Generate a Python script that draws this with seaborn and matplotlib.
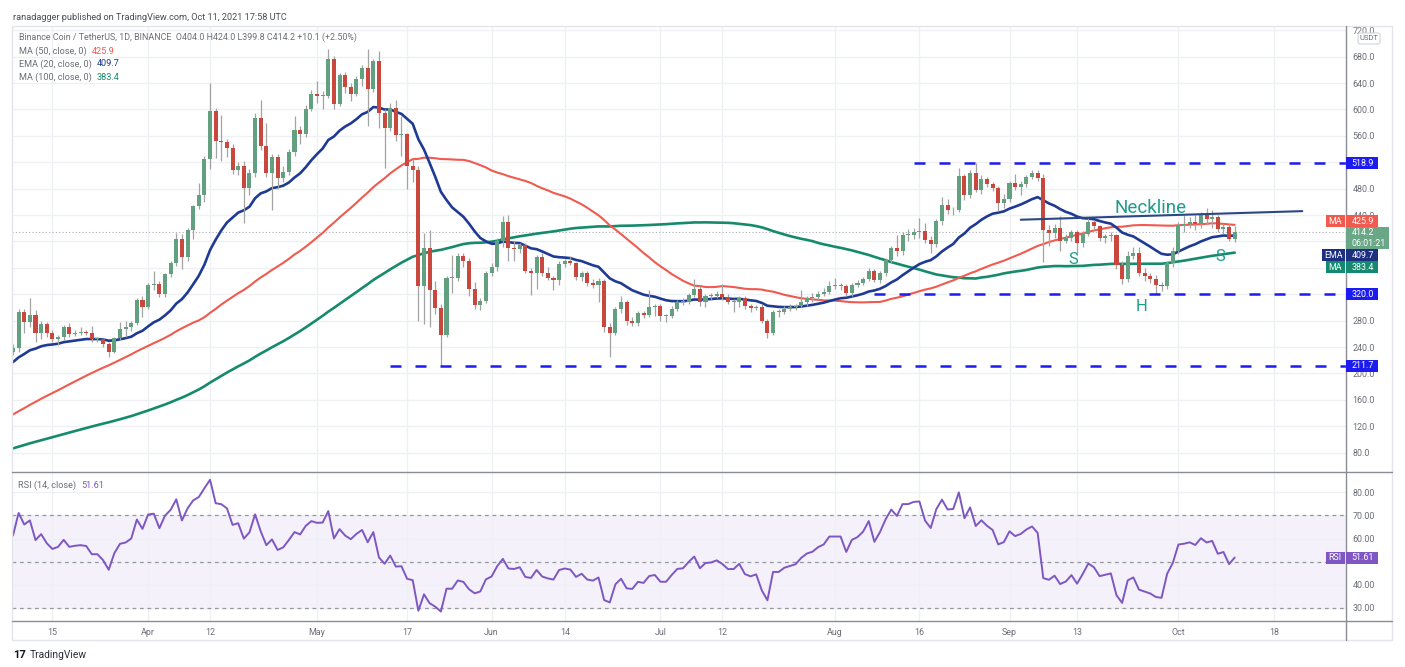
import numpy as np
import pandas as pd
import matplotlib
matplotlib.use("Agg")
import matplotlib.pyplot as plt
from matplotlib.patches import Rectangle, FancyBboxPatch
from matplotlib.lines import Line2D
from matplotlib.transforms import IdentityTransform
import seaborn as sns

# ---------------- data ----------------
# closes before the visible window (2020-11-28 .. 2021-03-07), only used to warm up MA / EMA / RSI
pre_close = [
    31.0, 31.5, 32.0, 30.5, 30.8, 31.0, 29.5, 30.2, 30.5, 30.3,
    29.0, 29.5, 29.3, 28.5, 29.5, 30.2, 30.0, 29.8, 31.0, 32.5,
    32.0, 32.8, 32.5, 31.5, 33.0, 31.5, 32.5, 33.5, 34.5, 36.0,
    37.0, 36.5, 37.5, 37.4,
    37.9, 38.2, 41.0, 40.5, 42.0, 41.5, 43.0, 42.0, 44.0, 43.5,
    40.0, 41.0, 43.0, 44.0, 42.0, 43.0,
    43, 44, 42, 41, 36, 39, 40, 42, 42, 41,
    40, 43, 45, 46, 45, 48, 51, 52, 53, 58,
    63, 64, 78,
    95, 130, 128, 130, 135, 138, 138, 150, 205, 240,
    300, 285, 265, 255, 220, 245, 230, 230, 232, 210,
    245, 232, 240, 228, 232, 230, 232,
]

start_date = "2021-03-08"   # first visible candle, last one is 2021-10-11

close = [
    239, 293, 278, 289, 261, 275, 261, 252, 256, 270,
    260, 262, 263, 262, 252, 252, 245, 233, 254, 268,
    270, 276, 311, 301, 334, 336, 320, 350, 367, 404,
    376, 418, 454, 471, 525, 597, 552, 550, 542, 508,
    515, 481, 504, 587, 544, 504, 528, 496, 506, 535,
    569, 563, 601, 624, 620, 621, 677, 609, 652, 634,
    624, 646, 663, 631, 673, 595, 572, 602, 562, 563,
    514, 508, 333, 390, 326, 299, 259, 345, 345, 378,
    370, 328, 304, 310, 352, 362, 400, 429, 390, 388,
    394, 356, 352, 376, 352, 345, 341, 366, 370, 367,
    346, 353, 337, 334, 340, 270, 261, 297, 309, 279,
    277, 291, 288, 301, 303, 287, 287, 298, 308, 309,
    319, 328, 309, 317, 318, 321, 316, 309, 309, 315,
    302, 299, 301, 279, 262, 293, 293, 298, 300, 302,
    309, 314, 316, 321, 324, 333, 333, 333, 322, 334,
    337, 343, 356, 341, 353, 372, 390, 385, 410, 410,
    415, 416, 402, 396, 431, 456, 447, 448, 499, 470,
    504, 478, 495, 487, 481, 459, 464, 489, 482, 487,
    497, 504, 496, 417, 413, 420, 401, 405, 415, 397,
    412, 430, 423, 406, 408, 410, 364, 343, 378, 383,
    353, 348, 343, 334, 332, 367, 386, 425, 427, 430,
    426, 440, 434, 437, 419, 422, 404, 414.2,
]

high = [
    245, 298, 298, 314, 296, 280, 278, 266, 259, 273,
    276, 266, 270, 266, 272, 256, 253, 248, 256, 278,
    280, 279, 314, 318, 337, 356, 340, 353, 370, 413,
    412, 420, 455, 488, 529, 640, 602, 592, 555, 548,
    520, 522, 510, 595, 615, 580, 533, 532, 515, 540,
    590, 575, 607, 630, 643, 628, 692, 681, 656, 657,
    640, 650, 668, 691, 676, 688, 600, 610, 615, 590,
    565, 525, 515, 413, 417, 340, 305, 348, 380, 382,
    382, 375, 338, 315, 356, 368, 405, 438, 440, 400,
    398, 398, 360, 380, 383, 361, 348, 370, 373, 378,
    369, 356, 356, 343, 344, 343, 277, 300, 318, 311,
    285, 294, 295, 327, 306, 305, 290, 302, 312, 314,
    322, 343, 332, 321, 322, 325, 336, 320, 313, 318,
    318, 305, 304, 305, 283, 296, 298, 302, 305, 306,
    327, 318, 322, 325, 330, 340, 345, 337, 336, 337,
    341, 346, 360, 359, 356, 375, 393, 410, 414, 419,
    421, 436, 428, 408, 434, 467, 465, 452, 511, 502,
    509, 519, 500, 498, 490, 484, 472, 492, 503, 492,
    500, 509, 508, 502, 425, 426, 438, 412, 418, 418,
    416, 436, 433, 425, 412, 414, 412, 370, 385, 392,
    392, 360, 352, 349, 338, 370, 392, 430, 440, 437,
    440, 444, 450, 448, 440, 426, 426, 424,
]

low = [
    228, 233, 261, 271, 248, 253, 256, 247, 243, 250,
    255, 257, 258, 258, 248, 248, 240, 225, 231, 250,
    256, 264, 273, 285, 298, 326, 316, 316, 346, 363,
    358, 370, 404, 449, 460, 510, 527, 522, 528, 502,
    500, 428, 470, 497, 538, 497, 448, 480, 490, 500,
    530, 548, 558, 598, 610, 601, 618, 600, 605, 625,
    613, 620, 636, 575, 626, 572, 512, 568, 552, 530,
    480, 490, 279, 275, 270, 290, 212, 255, 322, 340,
    362, 318, 297, 296, 307, 348, 355, 392, 370, 370,
    383, 352, 319, 328, 347, 342, 326, 334, 362, 364,
    342, 340, 333, 329, 309, 263, 225, 258, 292, 274,
    272, 272, 284, 285, 287, 280, 278, 284, 294, 304,
    305, 316, 303, 300, 312, 314, 312, 305, 293, 301,
    298, 293, 296, 276, 254, 258, 285, 290, 294, 296,
    300, 302, 309, 311, 318, 320, 328, 327, 318, 318,
    331, 334, 340, 338, 337, 348, 367, 378, 380, 400,
    404, 406, 398, 382, 392, 425, 441, 440, 445, 463,
    466, 475, 472, 482, 476, 446, 450, 460, 478, 470,
    483, 494, 491, 369, 393, 405, 385, 397, 400, 383,
    392, 408, 418, 400, 398, 400, 358, 335, 338, 374,
    347, 340, 337, 320, 325, 328, 361, 381, 414, 420,
    418, 420, 426, 420, 414, 412, 401, 399.8,
]

# horizontal levels drawn on the chart and the day each one starts
level_values = [518.9, 320.0, 211.7]
level_labels = ["518.9", "320.0", "211.7"]
level_starts = ["2021-08-15", "2021-08-08", "2021-05-14"]

# neckline of the head & shoulders
neck_dates = ["2021-09-03", "2021-10-23"]
neck_prices = [433, 446]

tick_dates = ["2021-03-15", "2021-04-01", "2021-04-12", "2021-05-01", "2021-05-17",
              "2021-06-01", "2021-06-14", "2021-07-01", "2021-07-12", "2021-08-01",
              "2021-08-16", "2021-09-01", "2021-09-13", "2021-10-01", "2021-10-18"]
tick_labels = ["15", "Apr", "12", "May", "17", "Jun", "14", "Jul", "12", "Aug",
               "16", "Sep", "13", "Oct", "18"]

price_ticks = list(range(80, 721, 40))
price_hidden = [360, 400]        # covered by the indicator tags
rsi_ticks = [30, 40, 50, 60, 70, 80]
rsi_hidden = [50]

last_ma50, last_ema20, last_ma100, last_rsi = "425.9", "409.7", "383.4", "51.61"
ohlc_text = "O404.0 H424.0 L399.8 C414.2 +10.1 (+2.50%)"

# ---------------- indicators ----------------
full = pd.Series(pre_close + close, dtype=float)
n_pre = len(pre_close)
ma50 = full.rolling(50).mean().to_numpy()[n_pre:]
ma100 = full.rolling(100).mean().to_numpy()[n_pre:]
ema20 = full.ewm(span=20, adjust=False).mean().to_numpy()[n_pre:]
delta = full.diff()
gain = delta.clip(lower=0).ewm(alpha=1 / 14, adjust=False).mean()
loss = (-delta.clip(upper=0)).ewm(alpha=1 / 14, adjust=False).mean()
rsi = (100 - 100 / (1 + gain / loss)).to_numpy()[n_pre:]

t0 = pd.Timestamp(start_date)
def day(d):
    return (pd.Timestamp(d) - t0).days

x = np.arange(len(close))
c = np.array(close, dtype=float)
o = np.array([pre_close[-1]] + close[:-1], dtype=float)
hi = np.maximum(np.array(high, dtype=float), np.maximum(o, c))
lo = np.minimum(np.array(low, dtype=float), np.minimum(o, c))

# ---------------- style ----------------
sns.set_style("white")
plt.rcParams["font.family"] = ["Roboto", "DejaVu Sans"]

GREEN, RED, WICK = "#62a07f", "#c9483e", "#a3a3a3"
C_MA50, C_EMA, C_MA100 = "#f05a4f", "#1f3a93", "#168a6c"
C_RSI, C_LEVEL, C_NECK, C_NOTE = "#7e57c2", "#1c1cf0", "#2b4785", "#1f9d8c"
C_TXT, C_GRID, C_AXIS = "#6b6e76", "#eef0f4", "#8a8d94"

W, H = 1405, 667
fig = plt.figure(figsize=(W / 100, H / 100), dpi=100)
fig.patch.set_facecolor("white")

LEFT, AXIS_X, RIGHT = 12, 1345.7, 1392
TOP, MID, BOT, FOOT = 26, 472.3, 620.7, 640

def fbox(x0, y0, x1, y1):
    return [x0 / W, 1 - y1 / H, (x1 - x0) / W, (y1 - y0) / H]

ax = fig.add_axes(fbox(LEFT, TOP, AXIS_X, MID))
rx = fig.add_axes(fbox(LEFT, MID, AXIS_X, BOT), sharex=ax)

px_day = 5.63
xmin = (LEFT - 13) / px_day
xmax = (AXIS_X - 13) / px_day
ax.set_xlim(xmin, xmax)
ax.set_ylim(50.3, 726.5)
rx.set_ylim(24.4, 88.7)

tick_pos = [day(d) for d in tick_dates]
for a in (ax, rx):
    for s in a.spines.values():
        s.set_visible(False)
    a.set_xticks(tick_pos)
    a.grid(True, color=C_GRID, lw=1)
    a.yaxis.tick_right()
    a.tick_params(length=0, colors=C_TXT, labelsize=6.4, pad=5)
    a.set_axisbelow(True)
ax.tick_params(labelbottom=False)
rx.set_xticklabels(tick_labels)
rx.tick_params(axis="x", pad=5)

ax.set_yticks(price_ticks)
ax.set_yticklabels(["" if v in price_hidden else f"{v:.1f}" for v in price_ticks])
rx.set_yticks(rsi_ticks)
rx.set_yticklabels(["" if v in rsi_hidden else f"{v:.2f}" for v in rsi_ticks])

# ---------------- price panel ----------------
ax.axhline(c[-1], color="#a9adb5", lw=0.8, ls=(0, (1, 2)), zorder=1)

sns.lineplot(x=x, y=ma100, ax=ax, color=C_MA100, lw=1.9, zorder=2)
sns.lineplot(x=x, y=ma50, ax=ax, color=C_MA50, lw=1.5, zorder=2)
sns.lineplot(x=x, y=ema20, ax=ax, color=C_EMA, lw=1.9, zorder=2)

up = c >= o
ax.vlines(x, lo, hi, colors=WICK, lw=0.9, zorder=3)
ax.bar(x, np.maximum(np.abs(c - o), 1.2), bottom=np.minimum(o, c), width=0.72,
       color=np.where(up, GREEN, RED), lw=0, zorder=4)

for v, d in zip(level_values, level_starts):
    ax.plot([day(d), xmax], [v, v], color=C_LEVEL, lw=1.8, ls=(0, (4.4, 5.6)),
            solid_capstyle="butt", dash_capstyle="butt", zorder=5)

ax.plot([day(d) for d in neck_dates], neck_prices, color=C_NECK, lw=1.5, zorder=5)

ax.text((1151 - 13) / px_day, 450, "Neckline", color=C_NOTE, fontsize=13.5,
        ha="center", va="center", zorder=6)
ax.text((1073 - 13) / px_day, 372, "S", color=C_NOTE, fontsize=12, ha="center", va="center", zorder=6)
ax.text((1220 - 13) / px_day, 378, "S", color=C_NOTE, fontsize=12, ha="center", va="center", zorder=6)
ax.text((1141 - 13) / px_day, 301, "H", color=C_NOTE, fontsize=12, ha="center", va="center", zorder=6)

# ---------------- RSI panel ----------------
rx.axhspan(30, 70, color=C_RSI, alpha=0.08, lw=0, zorder=0)
for lv in (30, 50, 70):
    rx.axhline(lv, color="#9598a1", lw=0.9, ls=(0, (3, 3)), zorder=1)
sns.lineplot(x=x, y=rsi, ax=rx, color=C_RSI, lw=1.4, zorder=3)

for a in (ax, rx):
    a.set_xlabel("")
    a.set_ylabel("")
ax.set_xlim(xmin, xmax)

# ---------------- frame ----------------
ID = IdentityTransform()
def hline_px(y, x0, x1, color, lw=1.0):
    fig.add_artist(Line2D([x0, x1], [H - y, H - y], transform=ID, color=color, lw=lw, zorder=3))
def vline_px(xp, y0, y1, color, lw=1.0):
    fig.add_artist(Line2D([xp, xp], [H - y0, H - y1], transform=ID, color=color, lw=lw, zorder=3))

fig.add_artist(Rectangle((LEFT, H - FOOT), RIGHT - LEFT, FOOT - TOP, transform=ID,
                         fill=False, ec="#e3e5ea", lw=1, zorder=3))
vline_px(AXIS_X, TOP, FOOT, C_AXIS)
hline_px(MID, LEFT, RIGHT, C_AXIS)
hline_px(BOT, LEFT, RIGHT, C_AXIS)

# ---------------- right axis tags ----------------
def tag_box(y_disp, text, bg, w=32, h=12, side=None, side_w=19):
    fig.add_artist(Rectangle((AXIS_X, y_disp - h / 2), w, h, transform=ID, fc=bg, ec="none", zorder=6))
    fig.text(AXIS_X + 6, y_disp, text, transform=ID, color="white", fontsize=6.4,
             ha="left", va="center", zorder=7)
    if side:
        fig.add_artist(Rectangle((AXIS_X - side_w - 1, y_disp - h / 2), side_w, h, transform=ID,
                                 fc=bg, ec="none", zorder=6))
        fig.text(AXIS_X - 1 - side_w / 2, y_disp, side, transform=ID, color="white",
                 fontsize=6.4, ha="center", va="center", zorder=7)

def ydisp(a, v):
    return a.transData.transform((0, v))[1]

for v, lab in zip(level_values, level_labels):
    tag_box(ydisp(ax, v), lab, C_LEVEL)

tag_box(H - 221, last_ma50, C_MA50, side="MA")
fig.add_artist(Rectangle((AXIS_X, H - 249.3), 43.5, 22.6, transform=ID, fc="#6aa786", ec="none", zorder=6))
fig.text(AXIS_X + 6, H - 232.5, f"{c[-1]:.1f}", transform=ID, color="white", fontsize=6.4,
         ha="left", va="center", zorder=7)
fig.text(AXIS_X + 6, H - 243.5, "06:01:21", transform=ID, color="white", fontsize=6.4,
         ha="left", va="center", zorder=7)
tag_box(H - 255, last_ema20, "#1c2f80", side="EMA", side_w=23)
tag_box(H - 267, last_ma100, "#138a70", side="MA")
tag_box(ydisp(rx, float(last_rsi)), last_rsi, C_RSI, side="RSI")

fig.add_artist(FancyBboxPatch((1358, H - 44), 22, 11, boxstyle="round,pad=0,rounding_size=2",
                              transform=ID, fc="white", ec="#d1d4dc", lw=0.8, zorder=6))
fig.text(1369, H - 38.5, "USDT", transform=ID, color=C_TXT, fontsize=5.5,
         ha="center", va="center", zorder=7)

# ---------------- legend texts ----------------
renderer = fig.canvas.get_renderer()
def ptext(xp, yp, s, color=C_TXT, size=6.6, **kw):
    return fig.text(xp, H - yp, s, transform=ID, color=color, fontsize=size,
                    ha="left", va="center", zorder=8, **kw)

def label_value(xp, yp, label, value, vcolor):
    t = ptext(xp, yp, label)
    bb = t.get_window_extent(renderer)
    ptext(bb.x1 + 5, yp, value, color=vcolor)

ptext(13, 17, "ranadagger published on TradingView.com, Oct 11, 2021 17:58 UTC", color="#4a4d55", size=6.6)
ptext(19, 37, "Binance Coin / TetherUS, 1D, BINANCE  " + ohlc_text, size=6.4)
label_value(19, 51, "MA (50, close, 0)", last_ma50, C_MA50)
label_value(19, 64, "EMA (20, close, 0)", last_ema20, C_EMA)
label_value(19, 77, "MA (100, close, 0)", last_ma100, C_MA100)
label_value(18, 485, "RSI (14, close)", last_rsi, C_RSI)

ptext(13, 655, "17", color="#131722", size=8, fontweight="bold")
ptext(30, 655, "TradingView", color="#2a2e39", size=7.4)

fig.savefig("out.png", dpi=100, facecolor="white")
